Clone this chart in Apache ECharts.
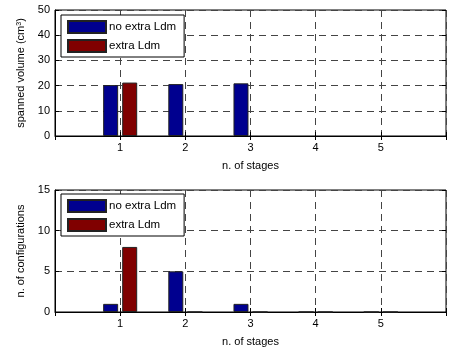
<!DOCTYPE html>
<html>
<head>
<meta charset="utf-8">
<script src="https://cdn.jsdelivr.net/npm/echarts@6/dist/echarts.min.js"></script>
<style>
  html, body { margin: 0; padding: 0; background: #fff; }
  #chart { width: 449px; height: 348px; }
</style>
</head>
<body>
<div id="chart"></div>
<script>
// stage positions (0 and 6 are just the axis ends)
var stages = ['0', '1', '2', '3', '4', '5', '6'];

// top: spanned volume (cm^3)
var volNoExtra = [null, 20.2, 20.6, 20.9, null, null, null];
var volExtra   = [null, 21.2, null, null, null, null, null];

// bottom: n. of configurations
var cfgNoExtra = [null, 1, 5, 1, 0, 0, null];
var cfgExtra   = [null, 8, 0, 0, 0, 0, null];

var blue = '#00008f';
var red = '#800000';
var font = 'Liberation Sans';

var chart = echarts.init(document.getElementById('chart'));

function xAx(grid, top) {
  return {
    type: 'category',
    gridIndex: grid,
    data: stages,
    boundaryGap: false,
    position: top ? 'top' : 'bottom',
    name: top ? '' : 'n. of stages',
    nameLocation: 'middle',
    nameGap: 24,
    nameTextStyle: { color: '#000', fontFamily: font, fontSize: 11 },
    axisLine: { show: !top, lineStyle: { color: '#000' } },
    axisTick: { inside: true, length: 4, lineStyle: { color: '#000' } },
    axisLabel: {
      show: !top,
      color: '#000', fontFamily: font, fontSize: 11, margin: 6,
      formatter: function (v) { return (v === '0' || v === '6') ? '' : v; }
    },
    splitLine: top ? { show: false } : { show: true, lineStyle: { color: '#444', type: [7, 5], width: 1 } }
  };
}

function yAx(grid, max, step, label, right) {
  return {
    type: 'value',
    gridIndex: grid,
    min: 0, max: max, interval: step,
    position: right ? 'right' : 'left',
    name: right ? '' : label,
    nameLocation: 'middle',
    nameGap: 23,
    nameTextStyle: {
      color: '#000', fontFamily: font, fontSize: 11,
      rich: { sup: { fontSize: 7, verticalAlign: 'top', padding: [0, 0, 5, 0], fontFamily: font, color: '#000' } }
    },
    axisLine: { show: !right, lineStyle: { color: '#000' } },
    axisTick: { show: true, inside: true, length: 4, lineStyle: { color: '#000' } },
    axisLabel: { show: !right, color: '#000', fontFamily: font, fontSize: 11, margin: 5 },
    splitLine: right ? { show: false } : { show: true, lineStyle: { color: '#444', type: [7, 5], width: 1 } }
  };
}

function barSeries(name, data, color, grid) {
  return {
    name: name,
    type: 'bar',
    xAxisIndex: grid * 2,
    yAxisIndex: grid * 2,
    data: data,
    barWidth: 15,
    barGap: '27%',
    itemStyle: { color: color, borderColor: '#222', borderWidth: 1 }
  };
}

function legendAt(top) {
  return {
    data: ['no extra Ldm', 'extra Ldm'],
    orient: 'vertical',
    left: 61,
    top: top,
    itemWidth: 38,
    itemHeight: 12,
    itemGap: 5,
    padding: [5, 8, 4, 6],
    backgroundColor: '#fff',
    borderColor: '#000',
    borderWidth: 1,
    borderRadius: 0,
    icon: 'rect',
    textStyle: { color: '#000', fontFamily: font, fontSize: 11.5, padding: [0, 0, 0, -2] },
    z: 10
  };
}

var option = {
  backgroundColor: '#fff',
  animation: false,
  grid: [
    { left: 55, top: 10, width: 392, height: 126, show: true, borderColor: '#000', borderWidth: 1, backgroundColor: 'transparent' },
    { left: 55, top: 190, width: 392, height: 126, show: true, borderColor: '#000', borderWidth: 1, backgroundColor: 'transparent' }
  ],
  legend: [legendAt(15), legendAt(194)],
  xAxis: [xAx(0, false), xAx(0, true), xAx(1, false), xAx(1, true)],
  yAxis: [
    yAx(0, 50, 10, 'spanned volume (cm{sup|3})', false),
    yAx(0, 50, 10, '', true),
    yAx(1, 15, 5, 'n. of configurations', false),
    yAx(1, 15, 5, '', true)
  ],
  series: [
    barSeries('no extra Ldm', volNoExtra, blue, 0),
    barSeries('extra Ldm', volExtra, red, 0),
    barSeries('no extra Ldm', cfgNoExtra, blue, 1),
    barSeries('extra Ldm', cfgExtra, red, 1)
  ]
};

chart.setOption(option);
</script>
</body>
</html>
